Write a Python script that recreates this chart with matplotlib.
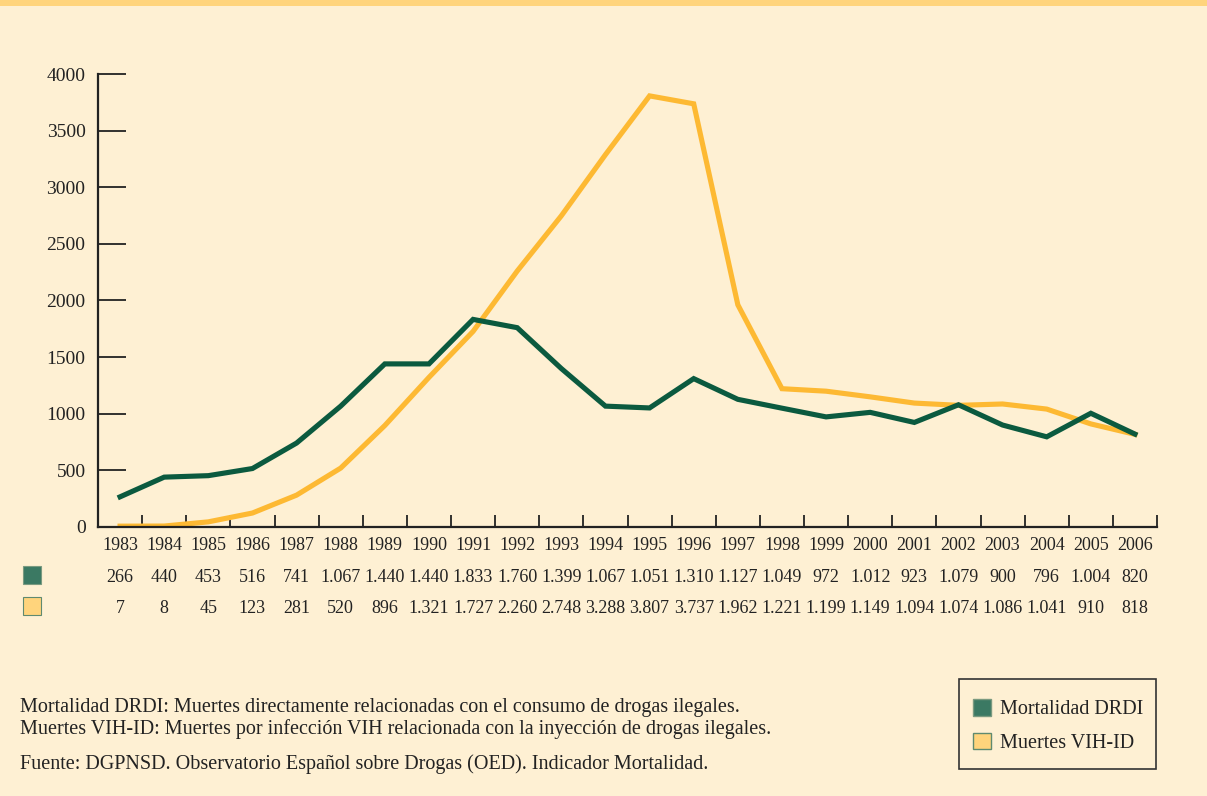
import numpy as np
import matplotlib.pyplot as plt
from matplotlib.patches import Rectangle, Patch

plt.rcParams['font.family'] = ['Liberation Serif', 'DejaVu Serif']

anios = [1983, 1984, 1985, 1986, 1987, 1988, 1989, 1990, 1991, 1992, 1993, 1994,
         1995, 1996, 1997, 1998, 1999, 2000, 2001, 2002, 2003, 2004, 2005, 2006]
drdi = [266, 440, 453, 516, 741, 1067, 1440, 1440, 1833, 1760, 1399, 1067,
        1051, 1310, 1127, 1049, 972, 1012, 923, 1079, 900, 796, 1004, 820]
vih = [7, 8, 45, 123, 281, 520, 896, 1321, 1727, 2260, 2748, 3288,
       3807, 3737, 1962, 1221, 1199, 1149, 1094, 1074, 1086, 1041, 910, 818]

fondo = '#FEF0D3'
verde = '#0B5A3F'
verde_leyenda = '#3B7963'
amarillo = '#FDB933'
amarillo_leyenda = '#FFD47C'


def fmt(v):
    # separador de miles con punto
    return f'{v:,}'.replace(',', '.')


fig = plt.figure(figsize=(12.07, 7.96), dpi=100, facecolor=fondo)
ax = fig.add_axes([0.0812, 0.338, 0.8774, 0.569])
ax.set_facecolor(fondo)

x = np.arange(len(anios))
ax.plot(x, drdi, color=verde, lw=3.7, solid_joinstyle='miter', zorder=3)
ax.plot(x, vih, color=amarillo, lw=3.7, solid_joinstyle='miter', zorder=2)

ax.set_xlim(-0.5, len(anios) - 0.5)
ax.set_ylim(0, 4000)
ax.set_yticks(np.arange(0, 4001, 500))
ax.set_xticks(x + 0.5)
ax.set_xticklabels([])
ax.tick_params(axis='y', direction='in', length=20, width=1.3, pad=9,
               labelsize=14, colors='#222222')
ax.tick_params(axis='x', direction='in', length=9, width=1.3, colors='#222222')
for s in ['top', 'right']:
    ax.spines[s].set_visible(False)
for s in ['left', 'bottom']:
    ax.spines[s].set_linewidth(1.6)
    ax.spines[s].set_color('#222222')

# tabla de valores debajo del eje
tr = ax.get_xaxis_transform()
for i in range(len(anios)):
    ax.text(i, -0.042, str(anios[i]), transform=tr, ha='center', va='center',
            fontsize=13, color='#222222')
    ax.text(i, -0.1126, fmt(drdi[i]), transform=tr, ha='center', va='center',
            fontsize=13, color='#222222')
    ax.text(i, -0.179, fmt(vih[i]), transform=tr, ha='center', va='center',
            fontsize=13, color='#222222')

fig.patches.append(Rectangle((0.019, 0.2663), 0.0149, 0.0226, transform=fig.transFigure,
                             facecolor=verde_leyenda, edgecolor='#7a9a80', lw=0.8))
fig.patches.append(Rectangle((0.019, 0.2274), 0.0149, 0.0226, transform=fig.transFigure,
                             facecolor=amarillo_leyenda, edgecolor='#5f8a70', lw=0.8))

# franja superior
fig.patches.append(Rectangle((0, 0.992), 1, 0.008, transform=fig.transFigure,
                             facecolor=amarillo_leyenda, edgecolor='none'))

# notas
fig.text(0.0166, 0.1115, 'Mortalidad DRDI: Muertes directamente relacionadas con el consumo de drogas ilegales.',
         fontsize=14.5, color='#222222', va='center')
fig.text(0.0166, 0.0841, 'Muertes VIH-ID: Muertes por infección VIH relacionada con la inyección de drogas ilegales.',
         fontsize=14.5, color='#222222', va='center')
fig.text(0.0166, 0.0402, 'Fuente: DGPNSD. Observatorio Español sobre Drogas (OED). Indicador Mortalidad.',
         fontsize=14.5, color='#222222', va='center')

# recuadro de la leyenda
fig.patches.append(Rectangle((0.7945, 0.0339), 0.1632, 0.1131, transform=fig.transFigure,
                             facecolor='none', edgecolor='#333333', lw=1.2))
handles = [Patch(facecolor=verde_leyenda, edgecolor='#7a9a80', label='Mortalidad DRDI'),
           Patch(facecolor=amarillo_leyenda, edgecolor='#5f8a70', label='Muertes VIH-ID')]
leg = fig.legend(handles=handles, loc='center', bbox_to_anchor=(0.8766, 0.0879),
                 bbox_transform=fig.transFigure, fontsize=14.5, frameon=False,
                 handlelength=0.9, handleheight=0.9, handletextpad=0.45,
                 borderpad=0, labelspacing=0.65, borderaxespad=0)
for t in leg.get_texts():
    t.set_color('#222222')

fig.savefig('out.png', dpi=100, facecolor=fondo)
